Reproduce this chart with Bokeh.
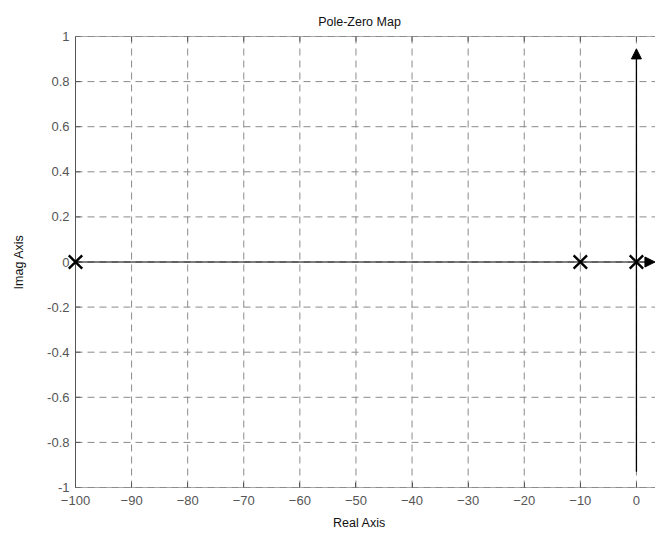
from bokeh.plotting import figure
from bokeh.models import FixedTicker, Arrow, NormalHead, Range1d
from bokeh.embed import file_html
from bokeh.resources import INLINE

pole_re = [-100, -10, 0]
pole_im = [0, 0, 0]
x_ticks = [-100, -90, -80, -70, -60, -50, -40, -30, -20, -10, 0]
y_ticks = [-1, -0.8, -0.6, -0.4, -0.2, 0, 0.2, 0.4, 0.6, 0.8, 1]
x_min, x_max = -100, 3.4
y_min, y_max = -1, 1
real_arrow = (-100, 3.3)
imag_arrow = (-0.93, 0.945)

GRAY = "#555555"
GRID = "#8a8a8a"
FONT = "Liberation Sans"
PAD = 12                      # px of extra frame left of the axes box (so markers aren't clipped)
BOX_W, BOX_H = 580, 451
k = (x_max - x_min) / BOX_W
x_frame_min = x_min - PAD * k

p = figure(width=655, height=533, output_backend="svg", toolbar_location=None,
           x_range=Range1d(x_frame_min, x_max), y_range=Range1d(y_min, y_max),
           title="Pole-Zero Map", min_border_left=75 - PAD, min_border_right=0,
           min_border_top=36, min_border_bottom=46)
p.title.align = "center"
p.title.text_font = FONT
p.title.text_font_size = "12.5px"
p.title.text_font_style = "normal"
p.title.text_color = "#111111"
p.title.offset = PAD / 2
p.title.standoff = 16
p.background_fill_color = "white"
p.border_fill_color = "white"
p.outline_line_color = None
p.xgrid.visible = False
p.ygrid.visible = False

for ax, ticks in ((p.xaxis[0], x_ticks), (p.yaxis[0], y_ticks)):
    ax.ticker = FixedTicker(ticks=ticks)
    ax.major_tick_in = 5
    ax.major_tick_out = 0
    ax.minor_tick_line_color = None
    ax.axis_line_color = None
    ax.major_tick_line_color = GRAY
    ax.major_label_text_color = GRAY
    ax.major_label_text_font = FONT
    ax.major_label_text_font_size = "13px"
    ax.axis_label_text_font = FONT
    ax.axis_label_text_font_size = "12.5px"
    ax.axis_label_text_font_style = "normal"
    ax.axis_label_text_color = "#111111"
p.yaxis[0].major_tick_line_color = None
p.yaxis[0].major_label_overrides = {v: ("%g" % v) for v in y_ticks}
p.xaxis.axis_label = "Real Axis"
p.yaxis.axis_label = "Imag Axis"
p.xaxis.major_label_standoff = 8
p.yaxis.major_label_standoff = 6 - PAD
p.xaxis.axis_label_standoff = 8
p.yaxis.axis_label_standoff = 18

# dashed grid
p.segment(x0=x_ticks, y0=[y_min] * len(x_ticks), x1=x_ticks, y1=[y_max] * len(x_ticks),
          line_color=GRID, line_dash="7 5", line_width=1)
p.segment(x0=[x_min] * len(y_ticks), y0=y_ticks, x1=[x_max] * len(y_ticks), y1=y_ticks,
          line_color=GRID, line_dash="7 5", line_width=1)

# axes box (left, top, bottom; right edge lies beyond the window)
p.segment(x0=[x_min, x_min, x_min], y0=[y_min, y_max, y_min],
          x1=[x_min, x_max, x_max], y1=[y_max, y_max, y_min],
          line_color=GRAY, line_width=1)

# inward ticks on top and left
tick_dy = (y_max - y_min) * 5 / BOX_H
p.segment(x0=x_ticks, y0=[y_max] * len(x_ticks), x1=x_ticks, y1=[y_max - tick_dy] * len(x_ticks),
          line_color=GRAY, line_width=1)
p.segment(x0=[x_min] * len(y_ticks), y0=y_ticks, x1=[x_min + 5 * k] * len(y_ticks), y1=y_ticks,
          line_color=GRAY, line_width=1)

# axes arrows
p.add_layout(Arrow(x_start=real_arrow[0], y_start=0, x_end=real_arrow[1], y_end=0,
                   line_color="black", line_width=1, start=None,
                   end=NormalHead(size=10, fill_color="black", line_color="black")))
p.add_layout(Arrow(x_start=0, y_start=imag_arrow[0], x_end=0, y_end=imag_arrow[1],
                   line_color="black", line_width=1.3, start=None,
                   end=NormalHead(size=10, fill_color="black", line_color="black")))

# poles
p.scatter(pole_re, pole_im, marker="x", size=19, line_color="black", line_width=2.4)

open("out.html", "w").write(file_html(p, INLINE))
